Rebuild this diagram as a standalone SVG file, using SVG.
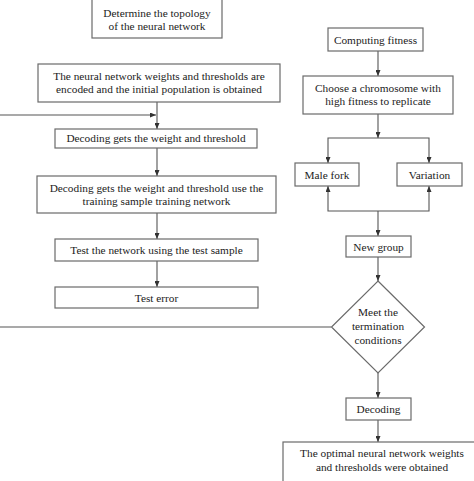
<svg xmlns="http://www.w3.org/2000/svg" width="474" height="481" viewBox="0 0 474 481">
<defs>
<style>
.box{fill:#fff;stroke:#6a6a6a;stroke-width:1.2}
.t{font-family:"Liberation Serif","Times New Roman",serif;font-size:11.3px;fill:#222;text-anchor:middle}
.c{fill:none;stroke:#555;stroke-width:1.1}
</style>
<marker id="ah" markerWidth="6" markerHeight="5" refX="6" refY="2.5" orient="auto" markerUnits="userSpaceOnUse">
<path d="M0,0 L6,2.5 L0,5 z" fill="#333"/>
</marker>
</defs>
<rect width="474" height="481" fill="#fff"/>
<g id="connectors">
<path class="c" d="M331,327 H-5 V115 H156" marker-end="url(#ah)"/>
<path class="c" d="M157,102 V129" marker-end="url(#ah)"/>
<path class="c" d="M157,148 V176" marker-end="url(#ah)"/>
<path class="c" d="M157,213 V239" marker-end="url(#ah)"/>
<path class="c" d="M157,261 V287" marker-end="url(#ah)"/>
<path class="c" d="M378,51 V76" marker-end="url(#ah)"/>
<path class="c" d="M378,114 V138" marker-end="url(#ah)"/>
<path class="c" d="M378,138 H328 V163" marker-end="url(#ah)"/>
<path class="c" d="M378,138 H429 V163" marker-end="url(#ah)"/>
<path class="c" d="M378,211 H328 V186" marker-end="url(#ah)"/>
<path class="c" d="M378,211 H429 V186" marker-end="url(#ah)"/>
<path class="c" d="M378,211 V236" marker-end="url(#ah)"/>
<path class="c" d="M378,257 V281" marker-end="url(#ah)"/>
<path class="c" d="M378,373 V398" marker-end="url(#ah)"/>
<path class="c" d="M378,420 V442" marker-end="url(#ah)"/>
</g>
<g id="topology">
<rect class="box" x="92" y="-5" width="130" height="43"/>
<text class="t" x="157" y="17">Determine the topology</text>
<text class="t" x="157" y="30">of the neural network</text>
</g>
<g id="encode">
<rect class="box" x="38" y="64" width="242" height="38"/>
<text class="t" x="159" y="80">The neural network weights and thresholds are</text>
<text class="t" x="159" y="93">encoded and the initial population is obtained</text>
</g>
<g id="decode1">
<rect class="box" x="55" y="129" width="202" height="19"/>
<text class="t" x="156" y="142">Decoding gets the weight and threshold</text>
</g>
<g id="decode2">
<rect class="box" x="37" y="176" width="239" height="37"/>
<text class="t" x="156.5" y="192">Decoding gets the weight and threshold use the</text>
<text class="t" x="156.5" y="205">training sample training network</text>
</g>
<g id="test">
<rect class="box" x="55" y="239" width="203" height="22"/>
<text class="t" x="156.5" y="254">Test the network using the test sample</text>
</g>
<g id="testerror">
<rect class="box" x="55" y="287" width="203" height="21"/>
<text class="t" x="156.5" y="301.5">Test error</text>
</g>
<g id="fitness">
<rect class="box" x="328" y="28" width="95" height="23"/>
<text class="t" x="375.5" y="43.5">Computing fitness</text>
</g>
<g id="choose">
<rect class="box" x="303" y="76" width="150" height="38"/>
<text class="t" x="378" y="92">Choose a chromosome with</text>
<text class="t" x="378" y="105">high fitness to replicate</text>
</g>
<g id="malefork">
<rect class="box" x="295" y="163" width="64" height="23"/>
<text class="t" x="327" y="178.5">Male fork</text>
</g>
<g id="variation">
<rect class="box" x="397" y="163" width="65" height="23"/>
<text class="t" x="429.5" y="178.5">Variation</text>
</g>
<g id="newgroup">
<rect class="box" x="346" y="236" width="65" height="21"/>
<text class="t" x="378.5" y="250.5">New group</text>
</g>
<g id="terminate">
<polygon class="box" points="378,281 424.5,327 378,373 331.5,327"/>
<text class="t" x="378" y="316">Meet the</text>
<text class="t" x="378" y="330">termination</text>
<text class="t" x="378" y="344">conditions</text>
</g>
<g id="decoding">
<rect class="box" x="346" y="398" width="65" height="22"/>
<text class="t" x="378.5" y="413">Decoding</text>
</g>
<g id="optimal">
<rect class="box" x="283" y="442" width="198" height="50"/>
<text class="t" x="382" y="457">The optimal neural network weights</text>
<text class="t" x="382" y="471">and thresholds were obtained</text>
</g>
</svg>
